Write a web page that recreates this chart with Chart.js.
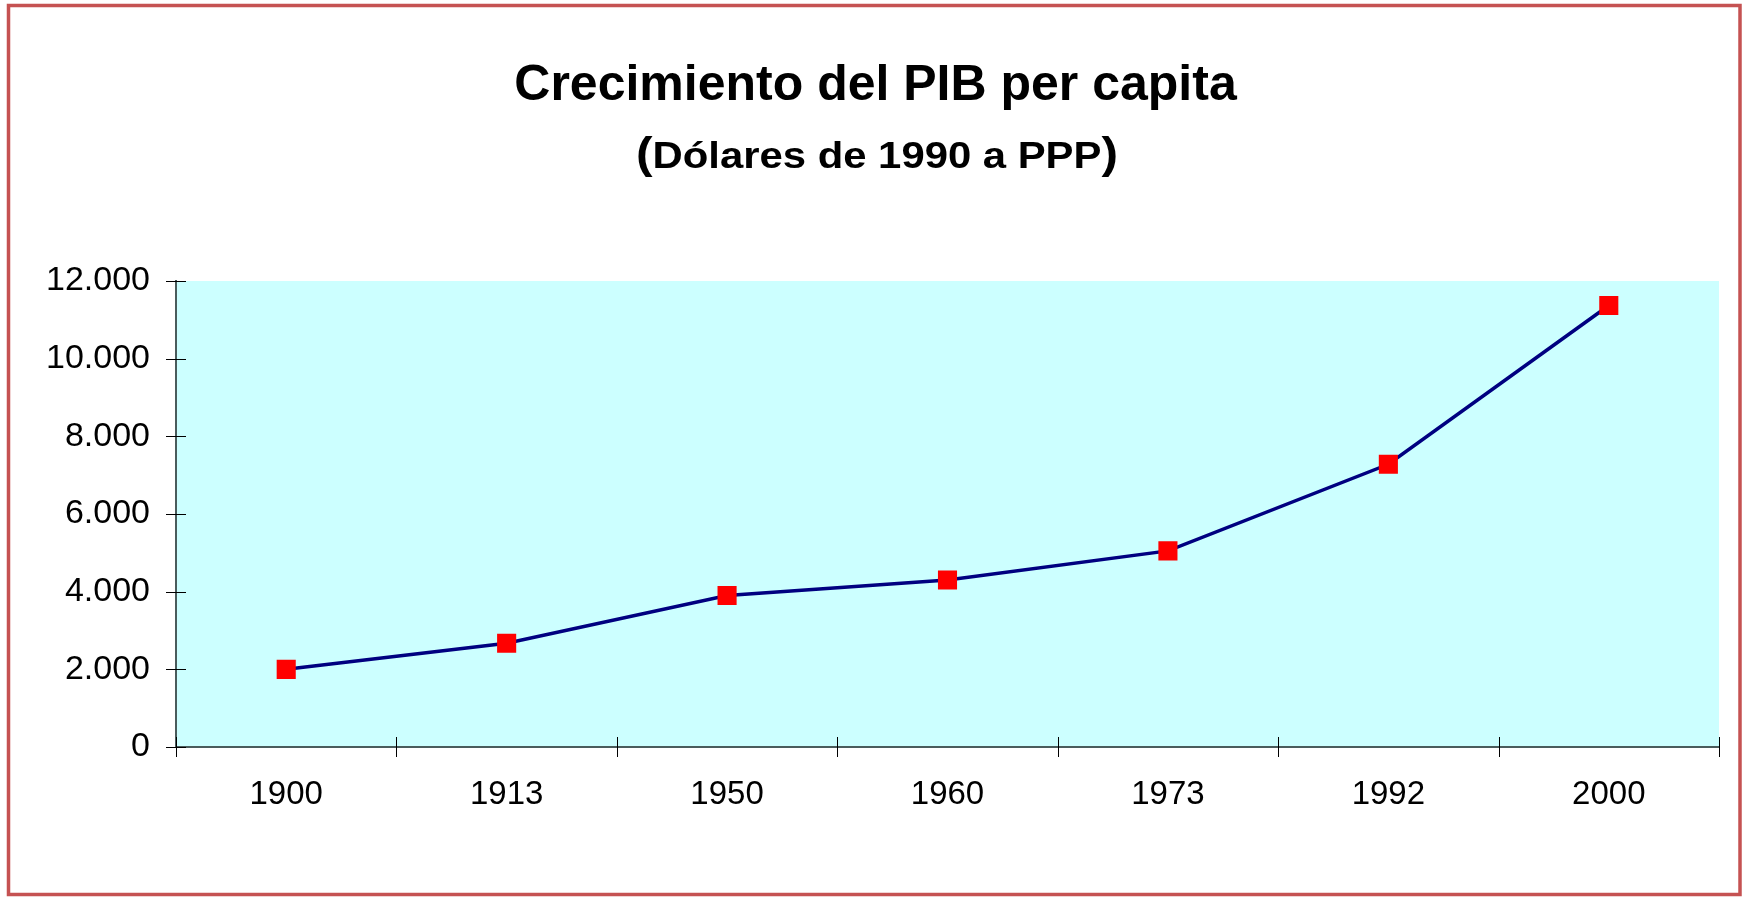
<!DOCTYPE html>
<html>
<head>
<meta charset="utf-8">
<script src="https://cdn.jsdelivr.net/npm/chart.js@4.4.1/dist/chart.umd.min.js"></script>
<style>
  html, body { margin: 0; padding: 0; background: #ffffff; }
  canvas { display: block; }
</style>
</head>
<body>
<canvas id="c" width="1750" height="898"></canvas>
<script>
const titleText = 'Crecimiento del PIB per capita';
const subtitleText = 'Dólares de 1990 a PPP';
const categories = ['1900', '1913', '1950', '1960', '1973', '1992', '2000'];
const gdpPerCapita = [2000, 2670, 3900, 4300, 5050, 7280, 11370];
const yTickValues = [0, 2000, 4000, 6000, 8000, 10000, 12000];

const FONT = '"Liberation Sans", Arial, Helvetica, sans-serif';

function fmt(v) {
  return String(v).replace(/\B(?=(\d{3})+(?!\d))/g, '.');
}

const decor = {
  id: 'decor',
  beforeDraw(chart) {
    const ctx = chart.ctx;
    const a = chart.chartArea;
    ctx.save();
    ctx.fillStyle = '#ffffff';
    ctx.fillRect(0, 0, chart.width, chart.height);
    ctx.fillStyle = '#CCFFFF';
    ctx.fillRect(a.left, a.top, a.right - a.left, a.bottom - a.top);
    ctx.restore();
  },
  afterDraw(chart) {
    const ctx = chart.ctx;
    const a = chart.chartArea;
    const xs = chart.scales.x;
    const ys = chart.scales.y;
    ctx.save();
    // axis tick marks (crossing the axis)
    ctx.strokeStyle = '#000000';
    ctx.lineWidth = 1;
    ctx.beginPath();
    ys.ticks.forEach(t => {
      const py = Math.round(ys.getPixelForValue(t.value)) + 0.5;
      ctx.moveTo(a.left - 10, py);
      ctx.lineTo(a.left + 10, py);
    });
    const n = categories.length;
    const half = (xs.getPixelForValue(1) - xs.getPixelForValue(0)) / 2;
    for (let i = 0; i <= n; i++) {
      const px = Math.round(i < n ? xs.getPixelForValue(i) - half : xs.getPixelForValue(n - 1) + half) + 0.5;
      ctx.moveTo(px, a.bottom - 10);
      ctx.lineTo(px, a.bottom + 10);
    }
    ctx.stroke();

    // titles
    ctx.fillStyle = '#000000';
    ctx.textAlign = 'center';
    ctx.textBaseline = 'alphabetic';
    ctx.font = 'bold 50px ' + FONT;
    ctx.fillText(titleText, 875.5, 100);

    // subtitle with larger parentheses, fitted to the reference width
    const fMain = 'bold 37px ' + FONT;
    const fPar = 'bold 44px ' + FONT;
    ctx.font = fPar;
    const wp = ctx.measureText('(').width;
    ctx.font = fMain;
    const wm = ctx.measureText(subtitleText).width;
    const total = wp * 2 + wm;
    const target = 482;
    const sx = target / total;
    const cx = 877;
    const base = 168.3;
    ctx.translate(cx - target / 2, base);
    ctx.scale(sx, 1);
    ctx.textAlign = 'left';
    ctx.font = fPar;
    ctx.fillText('(', 0, 0);
    ctx.font = fMain;
    ctx.fillText(subtitleText, wp, 0);
    ctx.font = fPar;
    ctx.fillText(')', wp + wm, 0);
    ctx.setTransform(1, 0, 0, 1, 0, 0);

    // outer frame
    ctx.strokeStyle = '#C55252';
    ctx.lineWidth = 3.5;
    ctx.strokeRect(8.5, 5.5, 1731.5, 889);
    ctx.restore();
  }
};

new Chart(document.getElementById('c'), {
  type: 'line',
  data: {
    labels: categories,
    datasets: [{
      data: gdpPerCapita,
      borderColor: '#000080',
      borderWidth: 3.5,
      tension: 0,
      fill: false,
      pointStyle: 'rect',
      pointRadius: 13.5,
      pointHoverRadius: 13.5,
      pointBackgroundColor: '#FF0000',
      pointBorderWidth: 0,
      pointBorderColor: '#FF0000'
    }]
  },
  options: {
    responsive: false,
    animation: false,
    devicePixelRatio: 1,
    layout: { padding: { top: 281, left: 10, right: 31, bottom: 0 } },
    plugins: {
      legend: { display: false },
      title: { display: false },
      tooltip: { enabled: false }
    },
    scales: {
      x: {
        type: 'category',
        offset: true,
        grid: { display: false, drawTicks: false, drawOnChartArea: false },
        border: { display: true, color: '#4a5c5c', width: 2 },
        ticks: {
          color: '#000000',
          font: { family: FONT, size: 33 },
          padding: 28,
          maxRotation: 0,
          autoSkip: false
        },
        afterFit(scale) { scale.height = 151; }
      },
      y: {
        type: 'linear',
        min: 0,
        max: 12000,
        grid: { display: false, drawTicks: false, drawOnChartArea: false },
        border: { display: true, color: '#4a5c5c', width: 2 },
        afterBuildTicks(scale) { scale.ticks = yTickValues.map(v => ({ value: v })); },
        ticks: {
          color: '#000000',
          font: { family: FONT, size: 34 },
          padding: 26,
          callback: (v) => fmt(v)
        },
        afterFit(scale) { scale.width = 166; }
      }
    }
  },
  plugins: [decor]
});
</script>
</body>
</html>
